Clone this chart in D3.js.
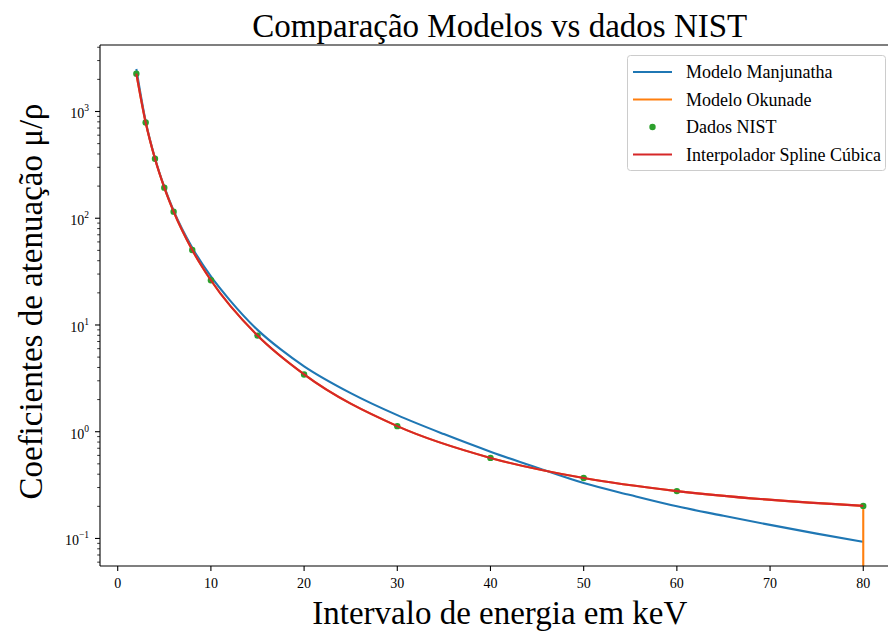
<!DOCTYPE html>
<html><head><meta charset="utf-8">
<script src="https://cdn.jsdelivr.net/npm/d3@7"></script>
<style>body{margin:0;background:#fff} svg{display:block}</style>
</head><body><svg id="c" width="888" height="633"></svg>
<script>
// ---- data ----
const nistE = [2, 3, 4, 5, 6, 8, 10, 15, 20, 30, 40, 50, 60, 80];
const nistV = [2263, 788, 360.5, 193.4, 115.3, 50.33, 26.23, 7.955, 3.441, 1.128, 0.5685, 0.3681, 0.2778, 0.2018];
const manjE = [2, 3, 4, 5, 6, 8, 10, 12, 15, 17.5, 20, 25, 30, 35, 40, 45, 50, 55, 60, 65, 70, 75, 80];
const manjV = [2500, 810, 365, 197, 118, 53, 28.5, 17.2, 9.0, 5.9, 4.1, 2.3, 1.43, 0.95, 0.65, 0.46, 0.33, 0.255, 0.20, 0.163, 0.134, 0.111, 0.093];
const okuE = [2, 3, 4, 5, 6, 8, 10, 15, 20, 30, 40, 50, 60, 80, 80];
const okuV = [2263, 788, 360.5, 193.4, 115.3, 50.33, 26.23, 7.955, 3.441, 1.128, 0.5685, 0.3681, 0.2778, 0.2018, 0];
const splineE = [2, 3, 4, 5, 6, 8, 10, 15, 20, 30, 40, 50, 60, 80];
const splineV = [2263, 788, 360.5, 193.4, 115.3, 50.33, 26.23, 7.955, 3.441, 1.128, 0.5685, 0.3681, 0.2778, 0.2018];
const xTicks = [0, 10, 20, 30, 40, 50, 60, 70, 80];
const yTickExps = [-1, 0, 1, 2, 3];
const legendLabels = ["Modelo Manjunatha", "Modelo Okunade", "Dados NIST", "Interpolador Spline Cúbica"];
const colors = {blue: "#1f77b4", orange: "#ff7f0e", green: "#2ca02c", red: "#d62728"};

// ---- layout ----
const L = 100, R = 899.6, T = 45, B = 566;
const svg = d3.select("#c");
const font = "'Liberation Serif','DejaVu Serif',serif";
const x = d3.scaleLinear().domain([-1.9, 83.9]).range([L, R]);
const y = d3.scaleLog().domain([Math.pow(10, -1.258), Math.pow(10, 3.623)]).range([B, T]);
const yv = v => v > 0 ? y(v) : B + 20;

svg.append("defs").append("clipPath").attr("id", "clip")
  .append("rect").attr("x", L).attr("y", T).attr("width", R - L).attr("height", B - T);

const plot = svg.append("g").attr("clip-path", "url(#clip)");
const zip = (E, V) => E.map((e, i) => ({e, v: V[i]}));
const lineM = d3.line().x(d => x(d.e)).y(d => yv(d.v)).curve(d3.curveMonotoneX);

// Manjunatha
plot.append("path").attr("d", lineM(zip(manjE, manjV)))
  .attr("fill", "none").attr("stroke", colors.blue).attr("stroke-width", 2.1);
// Okunade
const oku = zip(okuE, okuV);
const okuPos = oku.filter(d => d.v > 0);
const okuRest = oku.slice(okuPos.length - 1);
plot.append("path").attr("d", lineM(okuPos) + d3.line().x(d => x(d.e)).y(d => yv(d.v))(okuRest).replace(/^M/, "L"))
  .attr("fill", "none").attr("stroke", colors.orange).attr("stroke-width", 2.1);
// NIST dots
plot.selectAll("circle.nist").data(zip(nistE, nistV)).join("circle")
  .attr("cx", d => x(d.e)).attr("cy", d => y(d.v)).attr("r", 3.2).attr("fill", colors.green);
// Spline
plot.append("path").attr("d", lineM(zip(splineE, splineV)))
  .attr("fill", "none").attr("stroke", colors.red).attr("stroke-width", 2.1);

// ---- spines ----
const ax = svg.append("g").attr("stroke", "#000").attr("stroke-width", 1.1).attr("fill", "none");
ax.append("line").attr("x1", L).attr("x2", L).attr("y1", T).attr("y2", B);
ax.append("line").attr("x1", L).attr("x2", 888).attr("y1", B).attr("y2", B);
ax.append("line").attr("x1", L).attr("x2", 888).attr("y1", T).attr("y2", T);

// x ticks
const xt = svg.append("g");
xTicks.forEach(t => {
  xt.append("line").attr("x1", x(t)).attr("x2", x(t)).attr("y1", B).attr("y2", B + 5)
    .attr("stroke", "#000").attr("stroke-width", 1.1);
  xt.append("text").attr("x", x(t)).attr("y", B + 22).attr("text-anchor", "middle")
    .attr("font-family", font).attr("font-size", 14).attr("fill", "#000").text(t);
});

// y ticks (major + minor)
const yt = svg.append("g");
const [dmin, dmax] = y.domain();
for (let k = -2; k <= 3; k++) {
  for (let m = 2; m <= 9; m++) {
    const v = m * Math.pow(10, k);
    if (v < dmin || v > dmax) continue;
    yt.append("line").attr("x1", L).attr("x2", L - 2.8).attr("y1", y(v)).attr("y2", y(v))
      .attr("stroke", "#000").attr("stroke-width", 0.8);
  }
}
yTickExps.forEach(k => {
  const v = Math.pow(10, k);
  yt.append("line").attr("x1", L).attr("x2", L - 5).attr("y1", y(v)).attr("y2", y(v))
    .attr("stroke", "#000").attr("stroke-width", 1.1);
  const t = yt.append("text").attr("x", L - 11).attr("y", y(v) + 7).attr("text-anchor", "end")
    .attr("font-family", font).attr("font-size", 14).attr("fill", "#000");
  t.append("tspan").text("10");
  t.append("tspan").attr("dy", -7).attr("font-size", 9.5).text(k < 0 ? "\u2212" + (-k) : String(k));
});

// ---- titles ----
svg.append("text").attr("x", (L + R) / 2).attr("y", 37).attr("text-anchor", "middle")
  .attr("font-family", font).attr("font-size", 33).attr("fill", "#000")
  .text("Comparação Modelos vs dados NIST");
svg.append("text").attr("x", (L + R) / 2).attr("y", 624).attr("text-anchor", "middle")
  .attr("font-family", font).attr("font-size", 33).attr("fill", "#000")
  .text("Intervalo de energia em keV");
svg.append("text").attr("transform", `translate(42,${(T + B) / 2 - 4}) rotate(-90)`).attr("text-anchor", "middle")
  .attr("font-family", font).attr("font-size", 33).attr("fill", "#000")
  .text("Coeficientes de atenuação μ/ρ");

// ---- legend ----
const lg = svg.append("g");
lg.append("rect").attr("x", 627.5).attr("y", 55.5).attr("width", 258).attr("height", 115).attr("rx", 3)
  .attr("fill", "#fff").attr("fill-opacity", 0.8).attr("stroke", "#cccccc").attr("stroke-width", 1);
const kinds = ["line", "line", "dot", "line"];
const kc = [colors.blue, colors.orange, colors.green, colors.red];
legendLabels.forEach((lab, i) => {
  const cy = 72 + i * 27.5;
  if (kinds[i] === "line") {
    lg.append("line").attr("x1", 633).attr("x2", 672).attr("y1", cy).attr("y2", cy)
      .attr("stroke", kc[i]).attr("stroke-width", 2.1);
  } else {
    lg.append("circle").attr("cx", 652.5).attr("cy", cy).attr("r", 3.2).attr("fill", kc[i]);
  }
  lg.append("text").attr("x", 686).attr("y", cy + 6).attr("font-family", font).attr("font-size", 18)
    .attr("fill", "#000").text(lab);
});
</script></body></html>
